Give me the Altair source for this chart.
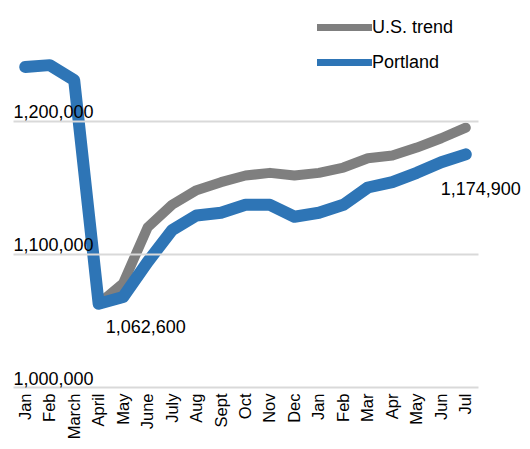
import json
import altair as alt
import pandas as pd

months = ["Jan", "Feb", "March", "April", "May", "June", "July", "Aug", "Sept",
          "Oct", "Nov", "Dec", "Jan", "Feb", "Mar", "Apr", "May", "Jun", "Jul"]
portland = [1240600, 1242000, 1230800, 1062600, 1067700, 1094000, 1118000, 1129000,
            1131000, 1137000, 1137000, 1128000, 1131000, 1137000, 1150000, 1154000,
            1161000, 1169000, 1174900]
us_trend = [None, None, None, 1062600, 1078000, 1120000, 1137000, 1148000, 1154000,
            1159000, 1161000, 1159000, 1161000, 1165000, 1172000, 1174000, 1180000,
            1187000, 1195000]
y_ticks = [1000000, 1100000, 1200000]
series_names = ["U.S. trend", "Portland"]
series_colors = ["#7f7f7f", "#2e75b6"]

rows = []
for i, m in enumerate(months):
    if us_trend[i] is not None:
        rows.append({"i": i, "series": "U.S. trend", "value": us_trend[i]})
    rows.append({"i": i, "series": "Portland", "value": portland[i]})
df = pd.DataFrame(rows)

FONT = "Liberation Sans"
label_expr = json.dumps(months) + "[datum.value]"

x = alt.X("i:O", title=None,
          axis=alt.Axis(labelExpr=label_expr, labelAngle=-90, ticks=False, domain=False,
                        labelPadding=6, labelFontSize=16.5, labelFont=FONT, labelColor="#000",
                        grid=False))
y = alt.Y("value:Q", title=None,
          scale=alt.Scale(domain=[1000000, 1281200], nice=False, zero=False),
          axis=alt.Axis(values=y_ticks, labelExpr="format(datum.value, ',')",
                        ticks=False, tickSize=0, domain=False, zindex=1,
                        labelAlign="left", labelBaseline="alphabetic", labelPadding=0,
                        labelOffset=-3, labelFontSize=18, labelFont=FONT, labelColor="#000",
                        grid=True, gridColor="#d9d9d9", gridWidth=2))
color = alt.Color("series:N", title=None,
                  scale=alt.Scale(domain=series_names, range=series_colors),
                  legend=alt.Legend(orient="none", legendX=314, legendY=-3,
                                    symbolType="M-2,0H2", symbolSize=756,
                                    symbolStrokeWidth=7, labelFontSize=18,
                                    labelFont=FONT, labelColor="#000", rowPadding=3,
                                    labelOffset=10, padding=0))

base = alt.Chart(df)
gray = base.transform_filter(alt.datum.series == "U.S. trend").mark_line(
    strokeWidth=10, strokeCap="round", strokeJoin="round").encode(x=x, y=y, color=color)
blue = base.transform_filter(alt.datum.series == "Portland").mark_line(
    strokeWidth=12, strokeCap="round", strokeJoin="round").encode(x=x, y=y, color=color)

ann_low = base.transform_filter((alt.datum.series == "Portland") & (alt.datum.i == 3)).mark_text(
    align="left", baseline="middle", dx=7, dy=24, fontSize=18, font=FONT, color="#000"
).encode(x=x, y=y, text=alt.Text("value:Q", format=","))
ann_end = base.transform_filter((alt.datum.series == "Portland") & (alt.datum.i == 18)).mark_text(
    align="right", baseline="middle", dx=55, dy=36, fontSize=18, font=FONT, color="#000"
).encode(x=x, y=y, text=alt.Text("value:Q", format=","))

chart = alt.layer(gray, blue, ann_low, ann_end).properties(
    width=465, height=374,
    autosize=alt.AutoSizeParams(type="none"),
    padding={"left": 5, "top": 5, "right": 44, "bottom": 52},
).configure_view(stroke=None)

chart.save("out.html", embed_options={"renderer": "svg", "actions": False})
